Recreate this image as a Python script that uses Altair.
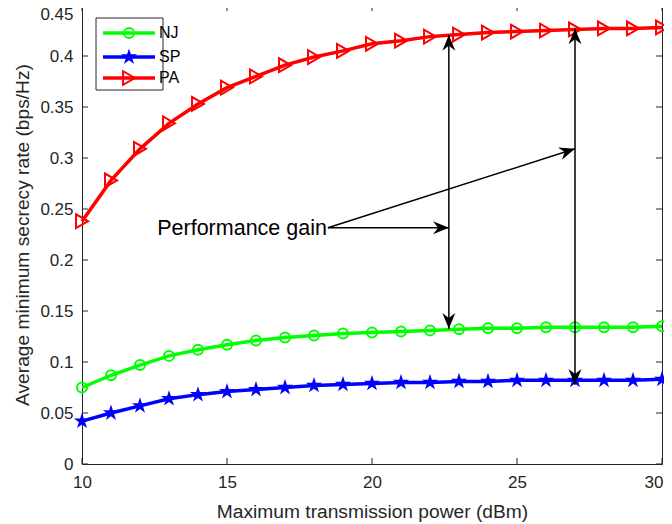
import math
import altair as alt
import pandas as pd

# ---------------- data ----------------
power = list(range(10, 31))
nj = [0.075, 0.087, 0.097, 0.106, 0.112, 0.117, 0.121, 0.124, 0.126, 0.128, 0.129,
      0.130, 0.131, 0.132, 0.133, 0.133, 0.134, 0.134, 0.134, 0.134, 0.135]
sp = [0.042, 0.050, 0.057, 0.064, 0.068, 0.071, 0.073, 0.075, 0.077, 0.078, 0.079,
      0.080, 0.080, 0.081, 0.081, 0.082, 0.082, 0.082, 0.082, 0.082, 0.083]
pa = [0.238, 0.278, 0.309, 0.334, 0.353, 0.369, 0.380, 0.391, 0.399, 0.405, 0.412,
      0.415, 0.419, 0.421, 0.423, 0.424, 0.425, 0.426, 0.427, 0.427, 0.428]
series_names = ["NJ", "SP", "PA"]
series_colors = ["#00ff00", "#0000ff", "#ff0000"]

x_ticks = [10, 15, 20, 25, 30]
y_ticks = [0, 0.05, 0.1, 0.15, 0.2, 0.25, 0.3, 0.35, 0.4, 0.45]
x_title = "Maximum transmission power (dBm)"
y_title = "Average minimum secrecy rate (bps/Hz)"

gain_text = ["Performance gain"]
gain_x = [18.48]
gain_y = [0.2317]
# arrows: start, end, double-headed?
arr_x1 = [22.65, 27.0, 18.48, 18.48]
arr_y1 = [0.1326, 0.0777, 0.2317, 0.2317]
arr_x2 = [22.65, 27.0, 22.65, 27.0]
arr_y2 = [0.4206, 0.427, 0.2317, 0.309]
arr_double = [True, True, False, False]

# ---------------- layout ----------------
W, H = 580, 459
XD, YD = [10, 30], [0, 0.45]
FONT = "Liberation Sans"
AX = "#262626"
last_x = x_ticks[-1]
last_y = y_ticks[-1]

xaxis = alt.Axis(values=x_ticks, tickSize=0, labelFontSize=17, labelFont=FONT, labelColor=AX,
                 labelAlign={"condition": {"test": f"datum.value == {last_x}", "value": "right"},
                             "value": "center"},
                 labelOffset={"condition": {"test": f"datum.value == {last_x}", "value": 1},
                              "value": 0},
                 title=x_title, titleFont=FONT, titleFontSize=19.2, titleFontWeight="normal",
                 titleColor=AX, labelPadding=10, titlePadding=12, grid=False,
                 domainColor=AX, labelFlush=False, labelOverlap=False)
yaxis = alt.Axis(values=y_ticks, tickSize=0, labelFontSize=17, labelFont=FONT, labelColor=AX,
                 labelBaseline={"condition": {"test": f"datum.value == {last_y}", "value": "top"},
                                "value": "middle"},
                 labelOffset={"condition": {"test": f"datum.value == {last_y}", "value": 1},
                              "value": 0},
                 format="~g", title=y_title, titleFont=FONT, titleFontSize=19.2,
                 titleFontWeight="normal", titleColor=AX, labelPadding=9, titlePadding=7,
                 grid=False, domainColor=AX, labelOverlap=False, labelFlush=False)
X = alt.X("x:Q", scale=alt.Scale(domain=XD, nice=False, zero=False), axis=xaxis)
Y = alt.Y("y:Q", scale=alt.Scale(domain=YD, nice=False, zero=False), axis=yaxis)
X2 = alt.X2("x2:Q")
Y2 = alt.Y2("y2:Q")

# star marker path (unit box)
pts = []
for k in range(10):
    rr = 1.0 if k % 2 == 0 else 0.382
    a = math.radians(-90 + 36 * k)
    pts.append(f"{rr * math.cos(a):.4f},{rr * math.sin(a):.4f}")
STAR = "M" + "L".join(pts) + "Z"
HEAD = "M0,0L-1,-0.41L-0.68,0L-1,0.41Z"

layers = []

# series
series_vals = [nj, sp, pa]
point_styles = [
    dict(shape="circle", size=100, filled=False, strokeWidth=2),
    dict(shape=STAR, size=290, filled=True, strokeWidth=1),
    dict(shape="triangle-right", size=190, filled=False, strokeWidth=2),
]
for name, vals, col, ps in zip(series_names, series_vals, series_colors, point_styles):
    df = pd.DataFrame({"x": power, "y": vals})
    base = alt.Chart(df)
    layers.append(base.mark_line(color=col, strokeWidth=3.5).encode(x=X, y=Y))
    layers.append(base.mark_point(color=col, opacity=1, **ps).encode(x=X, y=Y))

# arrows
seg = pd.DataFrame({"x": arr_x1, "y": arr_y1, "x2": arr_x2, "y2": arr_y2})
layers.append(alt.Chart(seg).mark_rule(color="black", strokeWidth=1.5).encode(x=X, y=Y, x2=X2, y2=Y2))


def ang(xa, ya, xb, yb):
    dxp = (xb - xa) * W / (XD[1] - XD[0])
    dyp = -(yb - ya) * H / (YD[1] - YD[0])
    return math.degrees(math.atan2(dyp, dxp)) % 360


hx, hy, ha = [], [], []
for x1, y1, x2, y2, dbl in zip(arr_x1, arr_y1, arr_x2, arr_y2, arr_double):
    hx.append(x2); hy.append(y2); ha.append(ang(x1, y1, x2, y2))
    if dbl:
        hx.append(x1); hy.append(y1); ha.append(ang(x2, y2, x1, y1))
heads = pd.DataFrame({"x": hx, "y": hy, "a": ha})
layers.append(alt.Chart(heads).mark_point(shape=HEAD, size=1000, filled=True, color="black",
                                          opacity=1, strokeWidth=0.5)
              .encode(x=X, y=Y, angle=alt.Angle("a:Q", scale=None)))

# annotation text
tdf = pd.DataFrame({"x": gain_x, "y": gain_y, "t": gain_text})
layers.append(alt.Chart(tdf).mark_text(align="right", baseline="middle", fontSize=21.5, font=FONT,
                                       color="black", dx=-1, dy=1)
              .encode(x=X, y=Y, text="t:N"))

# inward ticks (box style)
xt = pd.DataFrame({"x": x_ticks})
yt = pd.DataFrame({"y": y_ticks})
layers.append(alt.Chart(xt).mark_rule(color=AX, strokeWidth=1)
              .encode(x=X, y=alt.value(H), y2=alt.value(H - 6)))
layers.append(alt.Chart(xt).mark_rule(color=AX, strokeWidth=1)
              .encode(x=X, y=alt.value(0), y2=alt.value(6)))
layers.append(alt.Chart(yt).mark_rule(color=AX, strokeWidth=1)
              .encode(y=Y, x=alt.value(0), x2=alt.value(6)))
layers.append(alt.Chart(yt).mark_rule(color=AX, strokeWidth=1)
              .encode(y=Y, x=alt.value(W), x2=alt.value(W - 6)))

# legend box
one = pd.DataFrame({"k": [0]})
layers.append(alt.Chart(one).mark_rect(fill="white", stroke=AX, strokeWidth=1)
              .encode(x=alt.value(14), x2=alt.value(81), y=alt.value(13), y2=alt.value(85)))
leg_y = [28, 52, 73]
for name, col, ps, ly in zip(series_names, series_colors, point_styles, leg_y):
    ldf = pd.DataFrame({"name": [name]})
    lb = alt.Chart(ldf)
    layers.append(lb.mark_rule(color=col, strokeWidth=3.5)
                  .encode(x=alt.value(21), x2=alt.value(73), y=alt.value(ly)))
    layers.append(lb.mark_point(color=col, opacity=1, **ps)
                  .encode(x=alt.value(47), y=alt.value(ly)))
    layers.append(lb.mark_text(align="left", baseline="middle", fontSize=16, font=FONT, color="black")
                  .encode(x=alt.value(77), y=alt.value(ly), text="name:N"))

chart = alt.layer(*layers).properties(
    width=W, height=H,
    padding={"left": 74, "top": -3, "right": 2, "bottom": 58},
    autosize=alt.AutoSizeParams(type="none"),
).configure_view(stroke=AX, strokeWidth=1)

chart.save("out.html", embed_options={"renderer": "svg", "actions": False})
